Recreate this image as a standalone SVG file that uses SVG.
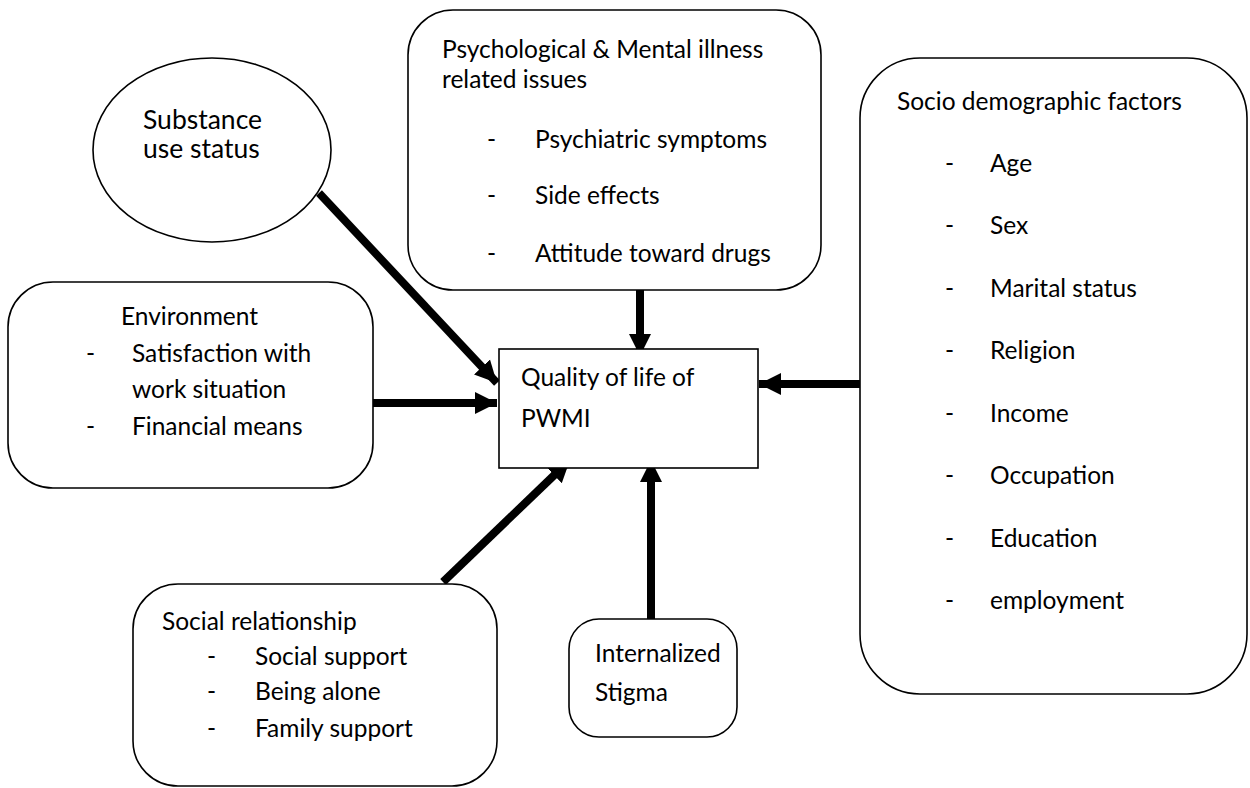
<svg xmlns="http://www.w3.org/2000/svg" width="1250" height="788" viewBox="0 0 1250 788">
<defs>
<marker id="ah" markerUnits="userSpaceOnUse" markerWidth="24" markerHeight="24" viewBox="0 0 24 24" refX="22" refY="12" orient="auto">
<path d="M0,1 L22,12 L0,23 Z" fill="#000"/>
</marker>
</defs>
<style>
.box{fill:#fff;stroke:#000;stroke-width:1.6}
.t{font-family:Lato,"Open Sans","Liberation Sans",sans-serif;font-size:24.5px;fill:#000}
.big{font-size:26.5px}
.c{stroke:#000;stroke-width:8;fill:none;marker-end:url(#ah)}
</style>
<rect width="1250" height="788" fill="#fff"/>
<g id="connectors">
<line class="c" x1="319" y1="193" x2="497" y2="383"/>
<line class="c" x1="373" y1="403" x2="497" y2="403"/>
<line class="c" x1="640" y1="290" x2="640" y2="356"/>
<line class="c" x1="860" y1="384" x2="759" y2="384"/>
<line class="c" x1="443" y1="582" x2="570" y2="460"/>
<line class="c" x1="651" y1="620" x2="651" y2="460"/>
</g>
<g id="substance">
<ellipse class="box" cx="212" cy="150" rx="119" ry="92"/>
<text class="t big" x="143" y="129">Substance</text>
<text class="t big" x="143" y="158">use status</text>
</g>
<g id="psych">
<rect class="box" x="408" y="10" width="413" height="280" rx="45" ry="45"/>
<text class="t" x="442" y="58">Psychological &amp; Mental illness</text>
<text class="t" x="442" y="88">related issues</text>
<text class="t" x="487" y="148">-</text><text class="t" x="535" y="148">Psychiatric symptoms</text>
<text class="t" x="487" y="204">-</text><text class="t" x="535" y="204">Side effects</text>
<text class="t" x="487" y="262">-</text><text class="t" x="535" y="262">Attitude toward drugs</text>
</g>
<g id="socio">
<rect class="box" x="860" y="58" width="387" height="636" rx="60" ry="60"/>
<text class="t" x="897" y="110">Socio demographic factors</text>
<text class="t" x="945" y="172">-</text><text class="t" x="990" y="172">Age</text>
<text class="t" x="945" y="234">-</text><text class="t" x="990" y="234">Sex</text>
<text class="t" x="945" y="297">-</text><text class="t" x="990" y="297">Marital status</text>
<text class="t" x="945" y="359">-</text><text class="t" x="990" y="359">Religion</text>
<text class="t" x="945" y="422">-</text><text class="t" x="990" y="422">Income</text>
<text class="t" x="945" y="484">-</text><text class="t" x="990" y="484">Occupation</text>
<text class="t" x="945" y="547">-</text><text class="t" x="990" y="547">Education</text>
<text class="t" x="945" y="609">-</text><text class="t" x="990" y="609">employment</text>
</g>
<g id="environment">
<rect class="box" x="8" y="282" width="365" height="206" rx="45" ry="45"/>
<text class="t" x="121" y="325">Environment</text>
<text class="t" x="86" y="362">-</text><text class="t" x="132" y="362">Satisfaction with</text>
<text class="t" x="132" y="398">work situation</text>
<text class="t" x="86" y="435">-</text><text class="t" x="132" y="435">Financial means</text>
</g>
<g id="quality">
<rect class="box" x="499" y="349" width="259" height="119"/>
<text class="t" x="521" y="386">Quality of life of</text>
<text class="t" x="521" y="427">PWMI</text>
</g>
<g id="social">
<rect class="box" x="133" y="584" width="364" height="202" rx="45" ry="45"/>
<text class="t" x="162" y="630">Social relationship</text>
<text class="t" x="207" y="665">-</text><text class="t" x="255" y="665">Social support</text>
<text class="t" x="207" y="700">-</text><text class="t" x="255" y="700">Being alone</text>
<text class="t" x="207" y="737">-</text><text class="t" x="255" y="737">Family support</text>
</g>
<g id="stigma">
<rect class="box" x="569" y="619" width="168" height="118" rx="30" ry="30"/>
<text class="t" x="595" y="662">Internalized</text>
<text class="t" x="595" y="701">Stigma</text>
</g>
</svg>
